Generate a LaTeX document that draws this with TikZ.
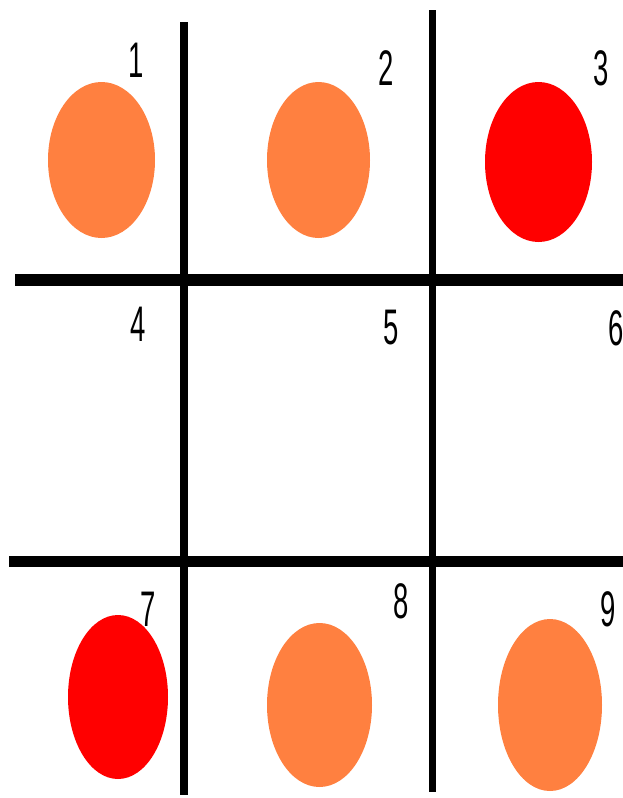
\documentclass[tikz,border=0pt]{standalone}
\usepackage{fontspec}
\setmainfont{Liberation Sans}
\definecolor{dotorange}{RGB}{255,128,64}
\definecolor{dotred}{RGB}{255,0,0}
\tikzset{digit/.style={inner sep=0pt, xscale=0.55, font=\fontsize{50}{60}\selectfont}}

\begin{document}
\begin{tikzpicture}[line cap=butt, x=1pt, y=-1pt]
  \useasboundingbox (0,0) rectangle (623,798);
  % grid
  \draw[line width=8pt] (184,22) -- (184,795);
  \draw[line width=7pt] (432.5,10) -- (432.5,792);
  \draw[line width=12pt] (15,280) -- (623,280);
  \draw[line width=11pt] (9,561) -- (623,561);
  % dots
  \foreach \cx/\cy/\rx/\ry/\col in {101.5/160/53.5/78/dotorange, 318.5/160/51.5/78/dotorange,
      538.5/162/53.5/80/dotred, 118/697/50/82/dotred, 319.5/705/52.5/82/dotorange,
      550/705/52/86/dotorange}
    \fill[\col] (\cx,\cy) ellipse [x radius=\rx, y radius=\ry];
  % numbers
  \node[digit] (n1) at (136,60) {1};
  \node[digit] (n2) at (386.5,68) {2};
  \node[digit] (n3) at (601,68) {3};
  \node[digit] (n4) at (138,324) {4};
  \node[digit] (n5) at (391,328) {5};
  \node[digit] (n6) at (616,328) {6};
  \node[digit] (n7) at (148.5,609) {7};
  \node[digit] (n8) at (401.5,601) {8};
  \node[digit] (n9) at (608,609) {9};
\end{tikzpicture}
\end{document}
